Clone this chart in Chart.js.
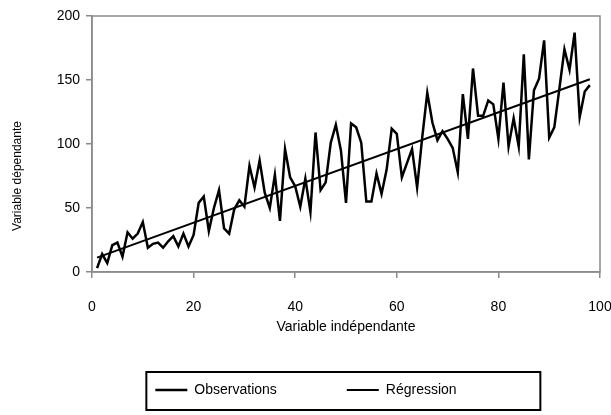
<!DOCTYPE html>
<html lang="fr">
<head>
<meta charset="UTF-8">
<title>Régression</title>
<script src="https://cdn.jsdelivr.net/npm/chart.js"></script>
<style>
  body { margin: 0; background: #fff; }
</style>
</head>
<body>
<canvas id="regChart" width="611" height="415"></canvas>
<script>
// valeurs
const obsX = [1,2,3,4,5,6,7,8,9,10,11,12,13,14,15,16,17,18,19,20,
              21,22,23,24,25,26,27,28,29,30,31,32,33,34,35,36,37,38,39,40,
              41,42,43,44,45,46,47,48,49,50,51,52,53,54,55,56,57,58,59,60,
              61,62,63,64,65,66,67,68,69,70,71,72,73,74,75,76,77,78,79,80,
              81,82,83,84,85,86,87,88,89,90,91,92,93,94,95,96,97,98];
const obsY = [3,14,7,21,23,12,31,26,30,39,19,22,23,19,24,28,20,30,20,29,
              54,59,32,50,64,34,30,49,56,51,83,66,87,62,50,76,40,96,74,67,
              51,73,47,109,64,70,101,115,95,54,116,113,101,55,55,77,61,80,112,108,
              74,85,96,66,105,140,117,103,110,104,97,78,139,104,159,122,122,134,131,104,
              148,98,120,98,170,88,142,151,181,105,113,143,174,158,187,121,141,146];
const regX = [1, 98];
const regY = [11.2, 150.6];
const xTicks = [0, 20, 40, 60, 80, 100];
const yTicks = [0, 50, 100, 150, 200];
const seriesNames = ['Observations', 'Régression'];
const xTitle = 'Variable indépendante';
const yTitle = 'Variable dépendante';

const gray = '#8a8a8a';
const fontFam = '"Liberation Sans", Arial, sans-serif';

// cadre gris autour de la zone de tracé + cadre noir de la légende + titre vertical
const decor = {
    id: 'decor',
    beforeDatasetsDraw(chart) {
        const a = chart.chartArea, ctx = chart.ctx;
        ctx.save();
        ctx.strokeStyle = gray;
        ctx.lineWidth = 1.5;
        ctx.strokeRect(a.left, a.top, a.right - a.left, a.bottom - a.top);
        ctx.restore();
    },
    afterDraw(chart) {
        const ctx = chart.ctx;
        const hb = chart.legend.legendHitBoxes;
        ctx.save();
        if (hb && hb.length) {
            ctx.strokeStyle = '#000';
            ctx.lineWidth = 2;
            ctx.strokeRect(hb[0].left - 9, hb[0].top - 11, 394, 38);
        }
        ctx.translate(18, 176);
        ctx.rotate(-Math.PI / 2);
        ctx.font = '12px ' + fontFam;
        ctx.fillStyle = '#000';
        ctx.textAlign = 'center';
        ctx.textBaseline = 'middle';
        ctx.fillText(yTitle, 0, 0);
        ctx.restore();
    }
};

const ctx = document.getElementById('regChart').getContext('2d');
new Chart(ctx, {
    type: 'line',
    data: {
        datasets: [
            {
                label: seriesNames[0],
                data: obsX.map((x, i) => ({x: x, y: obsY[i]})),
                borderColor: '#000',
                backgroundColor: '#000',
                borderWidth: 2.5,
                pointRadius: 0,
                pointStyle: 'line',
                tension: 0
            },
            {
                label: seriesNames[1],
                data: regX.map((x, i) => ({x: x, y: regY[i]})),
                borderColor: '#000',
                backgroundColor: '#000',
                borderWidth: 2,
                pointRadius: 0,
                pointStyle: 'line',
                tension: 0
            }
        ]
    },
    options: {
        responsive: false,
        animation: false,
        devicePixelRatio: 1,
        layout: { padding: { top: 16, right: 11, bottom: 8, left: 12 } },
        plugins: {
            tooltip: { enabled: false },
            legend: {
                position: 'bottom',
                labels: {
                    usePointStyle: true,
                    pointStyleWidth: 32,
                    padding: 70,
                    color: '#000',
                    font: { family: fontFam, size: 14 }
                }
            }
        },
        scales: {
            x: {
                type: 'linear',
                min: xTicks[0],
                max: xTicks[xTicks.length - 1],
                ticks: {
                    stepSize: xTicks[1] - xTicks[0],
                    color: '#000',
                    padding: 21,
                    font: { family: fontFam, size: 14 }
                },
                grid: { drawOnChartArea: false, tickLength: 6, color: gray, lineWidth: 1.5 },
                border: { color: gray, width: 1.5 },
                title: {
                    display: true,
                    text: xTitle,
                    color: '#000',
                    font: { family: fontFam, size: 14 },
                    padding: { top: 0, bottom: -22.4 }
                },
                afterFit(scale) {
                    scale.height = 41;
                    scale.paddingLeft = 0;
                    scale.paddingRight = 0;
                }
            },
            y: {
                min: yTicks[0],
                max: yTicks[yTicks.length - 1],
                ticks: {
                    stepSize: yTicks[1] - yTicks[0],
                    color: '#000',
                    padding: 6,
                    font: { family: fontFam, size: 14 }
                },
                grid: { drawOnChartArea: false, tickLength: 6, color: gray, lineWidth: 1.5 },
                border: { color: gray, width: 1.5 },
                afterFit(scale) { scale.width = 80; }
            }
        }
    },
    plugins: [decor]
});
</script>
</body>
</html>
